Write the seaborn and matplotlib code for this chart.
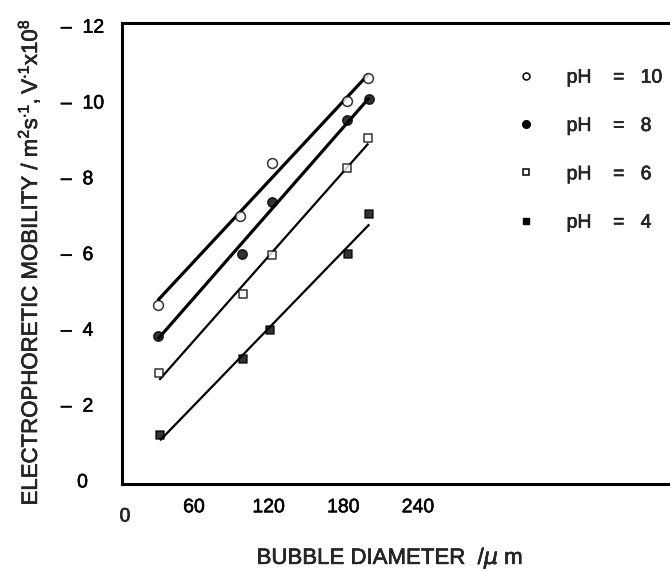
import numpy as np
import pandas as pd
import seaborn as sns
import matplotlib.pyplot as plt
import matplotlib.patheffects as pe
from matplotlib.lines import Line2D
from matplotlib.transforms import ScaledTranslation

# Measured mobilities for each pH (bubble diameter in micrometres)
d_ph10 = [27.6, 93.7, 119.2, 179.4, 196.8]
mob_ph10 = [4.64, 7.00, 8.40, 10.03, 10.62]
d_ph8 = [27.6, 95.1, 119.2, 179.9, 197.6]
mob_ph8 = [3.82, 5.98, 7.35, 9.52, 10.07]
d_ph6 = [28.9, 95.9, 119.4, 179.4, 196.8]
mob_ph6 = [2.84, 4.92, 5.96, 8.25, 9.04]
d_ph4 = [29.5, 96.4, 117.8, 180.2, 197.6]
mob_ph4 = [1.21, 3.21, 3.97, 5.99, 7.04]

ph_labels = ["10", "8", "6", "4"]
x_ticks = [60, 120, 180, 240]
y_ticks = [0, 2, 4, 6, 8, 10, 12]

sns.set_style("white")
plt.rcParams["font.family"] = ["Liberation Sans", "DejaVu Sans"]
plt.rcParams["mathtext.fontset"] = "custom"
plt.rcParams["mathtext.rm"] = "Liberation Sans"

# slightly heavier strokes for all lettering
bold_fx = [pe.withStroke(linewidth=0.4, foreground="black")]

W, H = 670, 572
fig = plt.figure(figsize=(W / 100, H / 100), dpi=100)
# axes box in pixels: left 122, bottom 484, top 23, right spine beyond the canvas
left_px, right_px, top_px, bot_px = 122, 720, 23, 484
ax = fig.add_axes([left_px / W, 1 - bot_px / H, (right_px - left_px) / W, (bot_px - top_px) / H])

px_per_x = 74.7 / 60
px_per_y = 37.9
ax.set_xlim((left_px - 123.3) / px_per_x, (right_px - 123.3) / px_per_x)
ax.set_ylim(-(bot_px - 480.9) / px_per_y, 12 + (26.2 - top_px) / px_per_y)

series = [
    (d_ph10, mob_ph10, "o", "white", 2.3, 50),
    (d_ph8, mob_ph8, "o", "black", 2.3, 46),
    (d_ph6, mob_ph6, "s", "white", 1.6, 30),
    (d_ph4, mob_ph4, "s", "black", 1.6, 30),
]
for xs, ys, mk, fc, lw, size in series:
    sns.regplot(x=np.array(xs), y=np.array(ys), ax=ax, ci=None, color="black",
                marker=mk, truncate=True,
                scatter_kws={"s": size, "facecolors": fc, "linewidths": 1.1, "zorder": 3},
                line_kws={"lw": lw, "solid_capstyle": "butt", "zorder": 2})

ax.set_xlabel("")
ax.set_ylabel("")

for side in ["left", "top", "bottom", "right"]:
    ax.spines[side].set_linewidth(2.2)
    ax.spines[side].set_color("black")

ax.set_xticks(x_ticks)
ax.set_xticklabels([str(v) for v in x_ticks])
ax.set_yticks(y_ticks)
ax.set_yticklabels(["   0"] + ["\u2013  " + str(v) for v in y_ticks[1:]])
ax.tick_params(axis="both", direction="in", length=7, width=1.5, labelsize=14,
               colors="black")
ax.tick_params(axis="x", pad=11)
ax.tick_params(axis="y", pad=44)
for lab in ax.get_yticklabels():
    lab.set_horizontalalignment("left")
    lab.set_path_effects(bold_fx)
shift = ScaledTranslation(-4 / 100, 0, fig.dpi_scale_trans)
for lab in ax.get_xticklabels():
    lab.set_transform(lab.get_transform() + shift)
    lab.set_path_effects(bold_fx)

# the zero of the diameter axis sits just right of the corner, a little lower
fig.text(125 / W, 1 - 517 / H, "0", fontsize=14, ha="center", va="center",
         path_effects=bold_fx)

fig.text(390 / W, 1 - 558 / H, "BUBBLE DIAMETER  /$\\mu$ m", fontsize=16,
         ha="center", va="center", path_effects=bold_fx)
fig.text(29 / W, 1 - 262 / H,
         "ELECTROPHORETIC MOBILITY / $\\mathregular{m^2s^{\\cdot 1},V^{\\cdot 1}x10^8}$",
         fontsize=16, rotation=90, ha="center", va="center", path_effects=bold_fx)

handles = [
    Line2D([], [], ls="none", marker="o", ms=5, mfc="white", mec="black", mew=1.1),
    Line2D([], [], ls="none", marker="o", ms=5.5, mfc="black", mec="black"),
    Line2D([], [], ls="none", marker="s", ms=4.5, mfc="white", mec="black", mew=1.1),
    Line2D([], [], ls="none", marker="s", ms=4.5, mfc="black", mec="black"),
]
labels = ["pH    =   " + p for p in ph_labels]
leg = ax.legend(handles, labels, loc="upper left", bbox_to_anchor=(518 / W, 1 - 69 / H),
                bbox_transform=fig.transFigure, frameon=False, fontsize=14,
                handlelength=0.8, handletextpad=1.7, labelspacing=1.58, borderpad=0,
                borderaxespad=0)
for t in leg.get_texts():
    t.set_path_effects(bold_fx)

fig.savefig("out.png", dpi=100)
